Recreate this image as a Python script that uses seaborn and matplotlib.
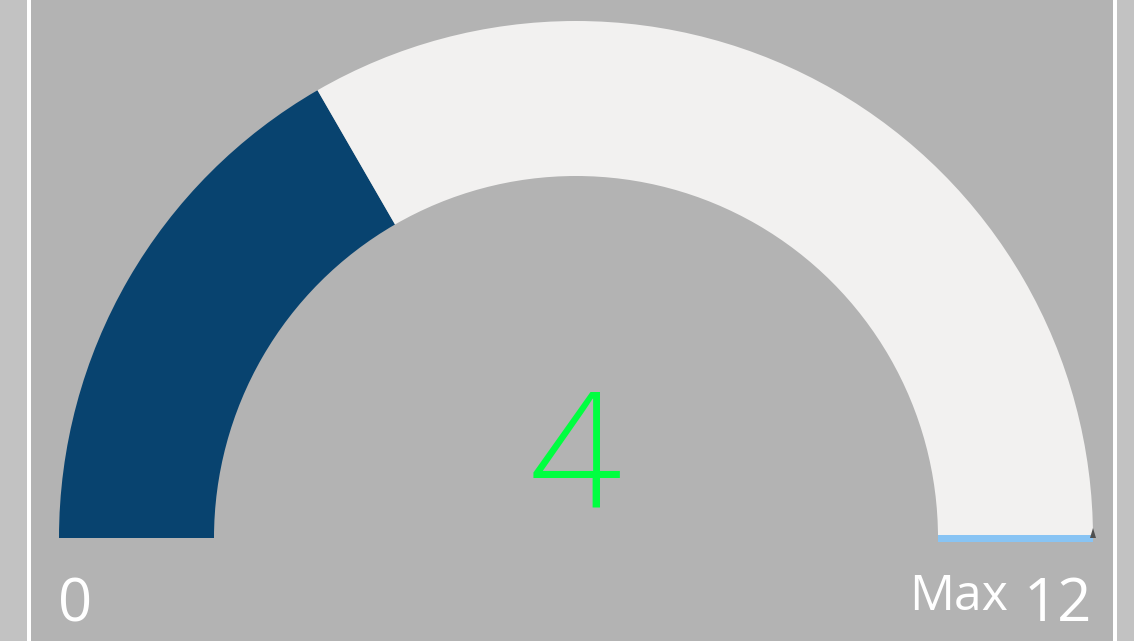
import matplotlib
matplotlib.use("Agg")
import matplotlib.pyplot as plt
from matplotlib.patches import Wedge, Rectangle
import seaborn as sns

# ---- data ----
value = [4]
min_max = [0, 12]
target = [12]
labels = ["0", "Max", "12"]
colors_fill = ["#08436f", "#f2f1f0"]

sns.set_theme(style="white")
plt.rcParams['font.family'] = ['Open Sans', 'DejaVu Sans']

W, H = 1134, 641
fig = plt.figure(figsize=(W / 100, H / 100), dpi=100)
fig.patch.set_facecolor("#c2c2c2")
ax = fig.add_axes([0, 0, 1, 1])
ax.set_xlim(0, W)
ax.set_ylim(H, 0)
ax.axis("off")

# panel background and white borders
ax.add_patch(Rectangle((29, -5), 1086, H + 10, facecolor="#b3b3b3", edgecolor="none"))
ax.add_patch(Rectangle((27, -5), 4, H + 10, facecolor="white", edgecolor="none"))
ax.add_patch(Rectangle((1113, -5), 4, H + 10, facecolor="white", edgecolor="none"))

cx, cy = 576, 538
r_out, r_in = 517, 362
vmin, vmax = min_max
frac = (value[0] - vmin) / (vmax - vmin)

a_val = 180 + 180 * frac
ax.add_patch(Wedge((cx, cy), r_out, 180, a_val, width=r_out - r_in,
                   facecolor=colors_fill[0], edgecolor="none"))
ax.add_patch(Wedge((cx, cy), r_out, a_val, 360, width=r_out - r_in,
                   facecolor=colors_fill[1], edgecolor="none"))

# target marker (at max)
ax.add_patch(Rectangle((cx + r_in, cy - 3), r_out - r_in, 7, facecolor="#88c4f4", edgecolor="none"))
ax.add_patch(plt.Polygon([[1093, 528], [1096, 538], [1090, 538]], closed=True,
                         facecolor="#505050", edgecolor="none"))

# texts
ax.text(cx, 465, str(value[0]), color="#00ff40", fontsize=116, fontweight="light",
        ha="center", va="center")
ax.text(58, 605, labels[0], color="white", fontsize=43, ha="left", va="center")
ax.text(1092, 605, labels[2], color="white", fontsize=43, ha="right", va="center")
ax.text(1008, 597, labels[1], color="white", fontsize=36, ha="right", va="center")

fig.savefig("out.png", dpi=100, facecolor=fig.get_facecolor())
